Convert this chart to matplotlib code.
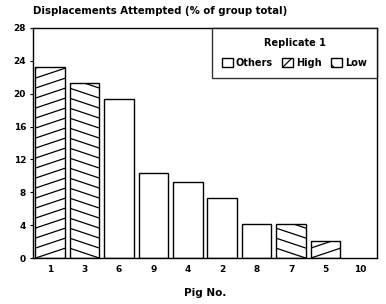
import matplotlib
matplotlib.use("Agg")
import matplotlib.pyplot as plt
from matplotlib.patches import Patch
from matplotlib.lines import Line2D
import math

pigs = ["1", "3", "6", "9", "4", "2", "8", "7", "5", "10"]
values = [23.3, 21.3, 19.4, 10.4, 9.3, 7.3, 4.1, 4.1, 2.1, 0.0]
groups = ["High", "Low", "Others", "Others", "Others", "Others", "Others", "Low", "High", "Others"]
hatch_dir = {"Others": 0, "High": 1, "Low": -1}
legend_hatch = {"Others": "", "High": "//", "Low": "\\\\"}
legend_order = ["Others", "High", "Low"]
yticks = [0, 4, 8, 12, 16, 20, 24, 28]

plt.rcParams['hatch.linewidth'] = 0.9
fig = plt.figure(figsize=(3.86, 3.04), dpi=100)
ax = fig.add_axes([0.0855, 0.151, 0.8915, 0.757])
ax.set_xlim(-0.5, 9.5)
ax.set_ylim(0, 28)


def add_hatch(patch, direction, spacing=10.0, slope=1 / 3.0):
    x0, y0 = patch.get_x(), patch.get_y()
    w, h = patch.get_width(), patch.get_height()
    (px0, py0) = ax.transData.transform((x0, y0))
    (px1, py1) = ax.transData.transform((x0 + w, y0 + h))
    wpx, hpx = px1 - px0, py1 - py0
    inv = ax.transData.inverted()
    kmin = -int(math.ceil(slope * wpx / spacing)) - 1
    kmax = int(math.ceil(hpx / spacing)) + 1
    for k in range(kmin, kmax + 1):
        if direction > 0:
            ya = py0 + k * spacing
            yb = ya + slope * wpx
        else:
            yb = py0 + k * spacing
            ya = yb + slope * wpx
        (dxa, dya) = inv.transform((px0, ya))
        (dxb, dyb) = inv.transform((px1, yb))
        ln = Line2D([dxa, dxb], [dya, dyb], color="black", linewidth=0.9)
        ax.add_line(ln)
        ln.set_clip_path(patch)


x = list(range(len(pigs)))
for xi, v, g in zip(x, values, groups):
    if v > 0:
        bc = ax.bar(xi, v, width=0.86, facecolor="white", edgecolor="black",
                    linewidth=1.0, zorder=2)
        if hatch_dir[g] != 0:
            add_hatch(bc.patches[0], hatch_dir[g])

ax.set_xlim(-0.5, 9.5)
ax.set_ylim(0, 28)
ax.set_yticks(yticks)
ax.set_yticklabels([str(t) for t in yticks], fontsize=6.5, fontweight="bold")
ax.set_xticks(x)
ax.set_xticklabels(pigs, fontsize=6.5, fontweight="bold")
ax.tick_params(axis="x", length=0, pad=5)
ax.tick_params(axis="y", length=2, width=0.8, pad=3)
for s in ax.spines.values():
    s.set_linewidth(1.0)

ax.set_xlabel("Pig No.", fontsize=7.5, fontweight="bold", labelpad=10)
fig.text(0.0855, 0.947, "Displacements Attempted (% of group total)",
         fontsize=7.3, fontweight="bold", ha="left", va="bottom")

handles = [Patch(facecolor="white", edgecolor="black", hatch=legend_hatch[g], label=g)
           for g in legend_order]
leg = ax.legend(handles=handles, title="Replicate 1", loc="upper right",
                bbox_to_anchor=(1.0, 1.0), ncol=3, fontsize=7, title_fontsize=7,
                frameon=True, fancybox=False, edgecolor="black", borderaxespad=0,
                handlelength=1.1, handleheight=1.1, handletextpad=0.3,
                columnspacing=1.0, borderpad=1.05)
leg.get_frame().set_linewidth(1.0)
leg.get_title().set_fontweight("bold")
leg._legend_box.sep = 7
for t in leg.get_texts():
    t.set_fontweight("bold")

fig.savefig("out.png", dpi=100)
